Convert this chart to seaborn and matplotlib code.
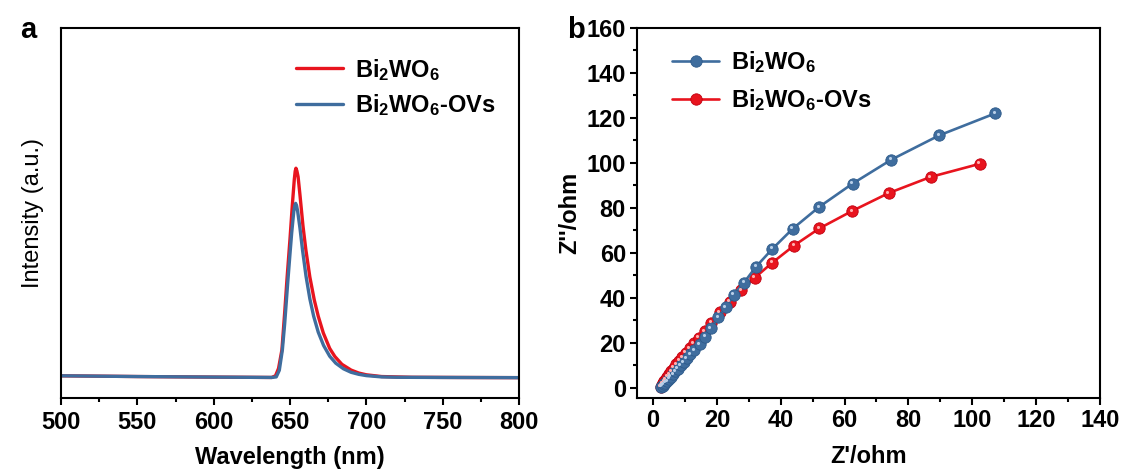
import numpy as np
import pandas as pd
import matplotlib
matplotlib.use("Agg")
import matplotlib.pyplot as plt
from matplotlib.lines import Line2D
from matplotlib.transforms import offset_copy
import seaborn as sns

# ---------------- data ----------------
# Panel a: PL spectra (arbitrary intensity units)
wl_pristine = [500, 550, 600, 638, 640.5, 642.5, 644.7, 646.5, 648, 650, 651.5, 652.8, 653.4, 653.9,
               654.5, 655.3, 656.5, 658.5, 660.4, 663, 665.9, 668.5, 671.8, 676, 679.4, 684, 690,
               695, 700, 710, 730, 760, 800]
int_pristine = [60, 58, 56.5, 55.5, 60, 80, 130, 230, 320, 430, 520, 590, 613, 621,
                614, 598, 550, 465, 400, 327, 265, 221, 176, 134, 112, 91, 75.5,
                67.5, 62.7, 58, 56, 55.5, 55]

wl_ovs = [500, 550, 600, 638, 641, 643, 645, 646.5, 648.5, 650, 651.1, 652.5, 653.2, 653.7,
          654.3, 655, 656.5, 658.2, 660.5, 663, 665.5, 668.5, 672, 676, 680, 685, 690,
          695, 700, 710, 720, 750, 800]
int_ovs = [60, 58, 56.5, 55.5, 57, 75, 130, 200, 311, 390, 446, 505, 521, 526,
           520, 505, 460, 400, 329, 268, 221, 178, 142, 113, 94, 79, 69.5,
           64, 60.5, 57, 56, 55.5, 55]

# Panel b: Nyquist plots
zre_pristine = [2.6, 3.0, 3.4, 3.9, 4.4, 5.0, 5.6, 6.3, 7.0, 7.8, 8.7, 9.6, 10.6, 11.7, 13.0,
                14.6, 16.3, 18.1, 20.5, 22.8, 25.3, 28.5, 32.3, 37.4, 43.8, 52.0, 62.5, 74.7,
                89.7, 107.1]
zim_pristine = [0.5, 1.0, 1.6, 2.3, 3.1, 4.0, 5.0, 6.1, 7.3, 8.6, 10.0, 11.5, 13.1, 14.9, 16.8,
                19.5, 22.7, 26.4, 31.3, 35.8, 41.5, 46.8, 53.9, 61.8, 70.8, 80.4, 90.8, 101.5,
                112.3, 122.0]

zre_ovs = [2.4, 2.7, 3.1, 3.5, 4.0, 4.5, 5.1, 5.8, 6.5, 7.3, 8.2, 9.2, 10.3, 11.5, 12.8,
           14.3, 16.2, 18.3, 20.9, 24.0, 27.7, 31.9, 37.4, 44.2, 52.1, 62.3, 73.8, 87.0, 102.3]
zim_ovs = [0.5, 1.2, 2.0, 2.9, 3.9, 5.0, 6.2, 7.5, 8.9, 10.4, 12.0, 13.7, 15.6, 17.6, 19.8,
           22.3, 25.3, 29.0, 33.6, 38.3, 43.5, 49.0, 55.7, 63.3, 70.9, 78.6, 86.6, 93.8, 99.6]

label_pristine = r"Bi$_2$WO$_6$"
label_ovs = r"Bi$_2$WO$_6$-OVs"

RED = "#e8141e"
BLUE = "#3f6d9e"

# ---------------- style ----------------
sns.set_style("ticks")
plt.rcParams["font.family"] = ["Liberation Sans", "DejaVu Sans"]
plt.rcParams["mathtext.fontset"] = "custom"
plt.rcParams["mathtext.rm"] = "Liberation Sans:bold"
plt.rcParams["mathtext.bf"] = "Liberation Sans:bold"
plt.rcParams["mathtext.it"] = "Liberation Sans:bold"
plt.rcParams["mathtext.default"] = "bf"
plt.rcParams["axes.linewidth"] = 1.5
for key in ["text.color", "axes.labelcolor", "xtick.color", "ytick.color", "axes.edgecolor"]:
    plt.rcParams[key] = "black"

FS = 17

fig = plt.figure(figsize=(11.23, 4.73), dpi=100)
ax1 = fig.add_axes([61 / 1123, 75 / 473, 458 / 1123, 370 / 473])
ax2 = fig.add_axes([637 / 1123, 75 / 473, 463 / 1123, 370 / 473])

# ---------------- panel a ----------------
dfa1 = pd.DataFrame({"wl": wl_pristine, "I": int_pristine})
dfa2 = pd.DataFrame({"wl": wl_ovs, "I": int_ovs})
sns.lineplot(data=dfa1, x="wl", y="I", ax=ax1, color=RED, lw=2.4, estimator=None)
sns.lineplot(data=dfa2, x="wl", y="I", ax=ax1, color=BLUE, lw=2.4, estimator=None)
ax1.set_xlim(500, 800)
ax1.set_ylim(0, 1000)
ax1.set_xticks(np.arange(500, 801, 50))
ax1.set_xticks(np.arange(525, 800, 50), minor=True)
ax1.set_yticks([])
ax1.tick_params(axis="x", which="major", direction="out", length=5, width=1.5, pad=4,
                labelsize=FS, colors="black")
ax1.tick_params(axis="x", which="minor", direction="out", length=3, width=1.5, colors="black")
for lab in ax1.get_xticklabels():
    lab.set_fontweight("bold")
ax1.set_xlabel("Wavelength (nm)", fontsize=FS, fontweight="bold", labelpad=9, color="black")
ax1.set_ylabel("Intensity (a.u.)", fontsize=FS, fontweight="normal", labelpad=12, color="black")
for s in ax1.spines.values():
    s.set_visible(True)
    s.set_linewidth(1.5)
    s.set_color("black")

h1 = [Line2D([], [], color=RED, lw=2.4), Line2D([], [], color=BLUE, lw=2.4)]
ax1.legend(h1, [label_pristine, label_ovs], loc="upper right", bbox_to_anchor=(0.995, 0.98),
           frameon=False, prop={"size": FS, "weight": "bold"}, handlelength=2.0,
           handletextpad=0.5, labelspacing=0.4, labelcolor="black")
fig.text(20 / 1123, 1 - 30 / 473, "a", fontsize=21, fontweight="bold", va="center", ha="left",
         color="black")

# ---------------- panel b ----------------
dfb1 = pd.DataFrame({"zre": zre_pristine, "zim": zim_pristine})
dfb2 = pd.DataFrame({"zre": zre_ovs, "zim": zim_ovs})
MS = 8.2
sns.lineplot(data=dfb2, x="zre", y="zim", ax=ax2, color=RED, lw=1.9, marker="o",
             markersize=MS, markeredgecolor="#c00010", markeredgewidth=0.6,
             estimator=None, sort=False)
sns.lineplot(data=dfb1, x="zre", y="zim", ax=ax2, color=BLUE, lw=1.9, marker="o",
             markersize=MS, markeredgecolor="#2d5a8a", markeredgewidth=0.6,
             estimator=None, sort=False)
# glossy highlights on the sphere-like markers
off = offset_copy(ax2.transData, fig=fig, x=-1.0, y=1.0, units="points")
sns.scatterplot(x=zre_ovs, y=zim_ovs, ax=ax2, s=5, color="#ffb0b0", linewidth=0,
                transform=off, zorder=5)
sns.scatterplot(x=zre_pristine, y=zim_pristine, ax=ax2, s=5, color="#b8cfe8", linewidth=0,
                transform=off, zorder=5)

ax2.set_xlim(-5, 140)
ax2.set_ylim(-4.5, 160)
ax2.set_xticks(np.arange(0, 141, 20))
ax2.set_xticks(np.arange(10, 140, 20), minor=True)
ax2.set_yticks(np.arange(0, 161, 20))
ax2.set_yticks(np.arange(10, 160, 20), minor=True)
ax2.tick_params(which="major", direction="out", length=5, width=1.5, pad=3, labelsize=FS,
                colors="black")
ax2.tick_params(which="minor", direction="out", length=3, width=1.5, colors="black")
for lab in ax2.get_xticklabels() + ax2.get_yticklabels():
    lab.set_fontweight("bold")
ax2.set_xlabel("Z'/ohm", fontsize=FS, fontweight="bold", labelpad=9, color="black")
ax2.set_ylabel("Z''/ohm", fontsize=FS, fontweight="bold", labelpad=4, color="black")
for s in ax2.spines.values():
    s.set_visible(True)
    s.set_linewidth(1.5)
    s.set_color("black")

h2 = [Line2D([], [], color=BLUE, lw=1.9, marker="o", markersize=MS,
             markeredgecolor="#2d5a8a", markeredgewidth=0.6),
      Line2D([], [], color=RED, lw=1.9, marker="o", markersize=MS,
             markeredgecolor="#c00010", markeredgewidth=0.6)]
ax2.legend(h2, [label_pristine, label_ovs], loc="upper left", bbox_to_anchor=(0.03, 1.0),
           frameon=False, prop={"size": FS, "weight": "bold"}, handlelength=2.0,
           handletextpad=0.5, labelspacing=0.5, labelcolor="black")
fig.text(567 / 1123, 1 - 30 / 473, "b", fontsize=21, fontweight="bold", va="center", ha="left",
         color="black")

fig.savefig("out.png", dpi=100)
